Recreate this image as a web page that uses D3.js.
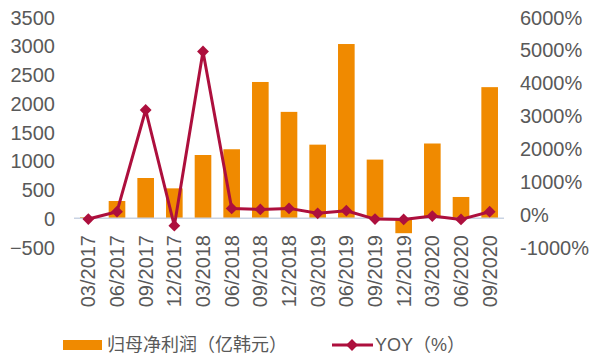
<!DOCTYPE html>
<html>
<head>
<meta charset="utf-8">
<script src="https://cdn.jsdelivr.net/npm/d3@7"></script>
<style>
  body { margin: 0; background: #fff; }
  text { font-family: "Liberation Sans", Arial, "Noto Sans CJK SC", sans-serif; fill: #595959; }
</style>
</head>
<body>
<div class="chart"></div>
<script>
const quarters = ["03/2017", "06/2017", "09/2017", "12/2017", "03/2018", "06/2018", "09/2018",
  "12/2018", "03/2019", "06/2019", "09/2019", "12/2019", "03/2020", "06/2020", "09/2020"];
const netProfit = [20, 300, 700, 520, 1100, 1200, 2370, 1850, 1280, 3030, 1020, -260, 1300, 370, 2280];
const yoy = [-150, 75, 3170, -350, 4950, 175, 145, 175, 25, 105, -150, -160, -60, -160, 75];
const leftTicks = [-500, 0, 500, 1000, 1500, 2000, 2500, 3000, 3500];
const rightTicks = [-1000, 0, 1000, 2000, 3000, 4000, 5000, 6000];
const barLabel = "归母净利润（亿韩元）";
const lineLabel = "YOY（%）";

const barColor = "#f08a00";
const lineColor = "#ad0f3d";
const width = 592, height = 355;
const plot = { left: 74, right: 504, top: 17, bottom: 247 };

const svg = d3.select(".chart").append("svg")
  .attr("width", width)
  .attr("height", height);

const x = d3.scaleBand()
  .domain(quarters)
  .range([plot.left, plot.right])
  .paddingInner(0.42)
  .paddingOuter(0.21);

const yLeft = d3.scaleLinear().domain([-500, 3500]).range([plot.bottom, plot.top]);
const yRight = d3.scaleLinear().domain([-1000, 6000]).range([plot.bottom, plot.top]);

// left axis
svg.append("g")
  .attr("transform", `translate(${plot.left - 19},0)`)
  .call(d3.axisLeft(yLeft).tickValues(leftTicks).tickSize(0).tickPadding(0).tickFormat(d3.format("d")))
  .call(g => g.select(".domain").remove())
  .selectAll("text")
  .style("font-size", "20px")
  .attr("dy", "0.35em");

// right axis
svg.append("g")
  .attr("transform", `translate(${plot.right + 16},0)`)
  .call(d3.axisRight(yRight).tickValues(rightTicks).tickSize(0).tickPadding(0).tickFormat(d => d + "%"))
  .call(g => g.select(".domain").remove())
  .selectAll("text")
  .style("font-size", "20px")
  .attr("dy", "0.35em");

// bars
svg.append("g")
  .selectAll("rect")
  .data(quarters)
  .join("rect")
  .attr("x", d => x(d))
  .attr("width", x.bandwidth())
  .attr("y", (d, i) => yLeft(Math.max(0, netProfit[i])))
  .attr("height", (d, i) => Math.abs(yLeft(netProfit[i]) - yLeft(0)))
  .attr("fill", barColor);

// zero line
svg.append("line")
  .attr("x1", plot.left)
  .attr("x2", plot.right)
  .attr("y1", yLeft(0))
  .attr("y2", yLeft(0))
  .attr("stroke", "#c9d3e3")
  .attr("stroke-width", 1.5);

// x labels
svg.append("g")
  .selectAll("text")
  .data(quarters)
  .join("text")
  .attr("transform", d => `translate(${x(d) + x.bandwidth() / 2 + 7},235) rotate(-90)`)
  .attr("text-anchor", "end")
  .style("font-size", "20px")
  .text(d => d);

// yoy line
const cx = d => x(d) + x.bandwidth() / 2;
const line = d3.line()
  .x(d => cx(d.q))
  .y(d => yRight(d.v));
const yoyData = quarters.map((q, i) => ({ q, v: yoy[i] }));

svg.append("path")
  .datum(yoyData)
  .attr("fill", "none")
  .attr("stroke", lineColor)
  .attr("stroke-width", 3)
  .attr("stroke-linejoin", "round")
  .attr("d", line);

const marker = d3.symbol().type(d3.symbolSquare).size(70);
svg.append("g")
  .selectAll("path")
  .data(yoyData)
  .join("path")
  .attr("transform", d => `translate(${cx(d.q)},${yRight(d.v)}) rotate(45)`)
  .attr("d", marker)
  .attr("fill", lineColor);

// legend
const legend = svg.append("g");
legend.append("rect")
  .attr("x", 63).attr("y", 340)
  .attr("width", 39).attr("height", 10)
  .attr("fill", barColor);
legend.append("text")
  .attr("x", 107).attr("y", 345)
  .attr("dy", "0.35em")
  .style("font-size", "18px")
  .text(barLabel);

legend.append("line")
  .attr("x1", 332).attr("x2", 373)
  .attr("y1", 345).attr("y2", 345)
  .attr("stroke", lineColor)
  .attr("stroke-width", 3);
legend.append("path")
  .attr("transform", "translate(352,345) rotate(45)")
  .attr("d", marker)
  .attr("fill", lineColor);
legend.append("text")
  .attr("x", 375).attr("y", 345)
  .attr("dy", "0.35em")
  .style("font-size", "18px")
  .text(lineLabel);
</script>
</body>
</html>
